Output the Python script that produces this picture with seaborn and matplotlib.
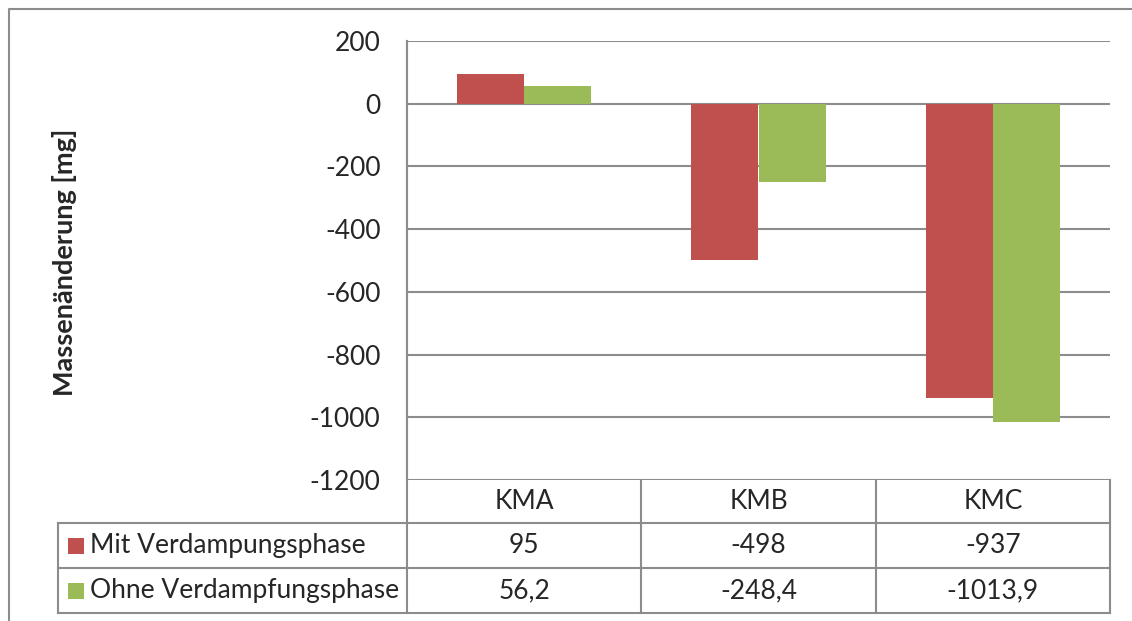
import matplotlib
matplotlib.use("Agg")
import matplotlib.pyplot as plt
import seaborn as sns
import pandas as pd
from matplotlib.patches import Rectangle

# --- Daten ---
kategorien = ["KMA", "KMB", "KMC"]
serien = ["Mit Verdampungsphase", "Ohne Verdampfungsphase"]
mit_verdampfung = [95, -498, -937]
ohne_verdampfung = [56.2, -248.4, -1013.9]
y_ticks = [200, 0, -200, -400, -600, -800, -1000, -1200]

werte = {serien[0]: mit_verdampfung, serien[1]: ohne_verdampfung}
df = pd.DataFrame({
    "Kategorie": kategorien * 2,
    "Serie": [serien[0]] * 3 + [serien[1]] * 3,
    "Wert": mit_verdampfung + ohne_verdampfung,
})

farben = ["#C0504D", "#9BBB59"]
grau = "#8C8C8C"
fs = 19

sns.set_style("white")
plt.rcParams["font.family"] = ["Lato", "DejaVu Sans"]

W, H = 1132, 621
fig = plt.figure(figsize=(W / 100, H / 100), dpi=100)

# Layout in Pixeln
links, rechts, oben, unten = 407, 1110, 41, 480
ax = fig.add_axes([links / W, 1 - unten / H, (rechts - links) / W, (unten - oben) / H])

sns.barplot(data=df, x="Kategorie", y="Wert", hue="Serie", palette=farben,
            saturation=1, width=0.572, linewidth=0, legend=False, ax=ax)

ax.set_ylim(-1200, 200)
ax.set_xlim(-0.5, 2.5)
ax.set_yticks(y_ticks)
ax.set_yticklabels([str(t) for t in y_ticks], fontsize=fs)
ax.tick_params(axis="y", length=0, pad=19)
ax.set_xticks([])
ax.set_xlabel("")
ax.set_ylabel("")
ax.grid(axis="y", color=grau, linewidth=1.5)
ax.set_axisbelow(True)
for s in ["top", "right", "bottom"]:
    ax.spines[s].set_visible(False)
ax.spines["left"].set_color(grau)
ax.spines["left"].set_linewidth(1.5)

fig.text(65 / W, 1 - 262 / H, "Massenänderung [mg]", rotation=90,
         ha="center", va="center", fontsize=fs + 0.5, fontweight="bold")

# --- Datentabelle unter dem Diagramm (Pixel-Overlay) ---
ov = fig.add_axes([0, 0, 1, 1], facecolor="none")
ov.set_xlim(0, W)
ov.set_ylim(H, 0)
ov.axis("off")

zeilen = [480, 523, 568, 613]
tab_links = 58
spalte = (rechts - links) / len(kategorien)
grenzen = [links + i * spalte for i in range(len(kategorien) + 1)]

kw = dict(color=grau, linewidth=1.5, solid_capstyle="projecting")
ov.plot([links, links], [oben, zeilen[-1]], **kw)
for y in zeilen[1:]:
    ov.plot([tab_links, rechts], [y, y], **kw)
ov.plot([tab_links, tab_links], [zeilen[1], zeilen[-1]], **kw)
for x in grenzen[1:]:
    ov.plot([x, x], [zeilen[0], zeilen[-1]], **kw)

for i, k in enumerate(kategorien):
    xm = (grenzen[i] + grenzen[i + 1]) / 2
    ov.text(xm, (zeilen[0] + zeilen[1]) / 2, k, ha="center", va="center", fontsize=fs)

for r, (name, farbe) in enumerate(zip(serien, farben)):
    yo, yu = zeilen[r + 1], zeilen[r + 2]
    ym = (yo + yu) / 2
    ov.add_patch(Rectangle((68, ym - 8), 16, 16, color=farbe, linewidth=0))
    ov.text(90, ym, name, ha="left", va="center", fontsize=fs)
    for i, v in enumerate(werte[name]):
        xm = (grenzen[i] + grenzen[i + 1]) / 2
        txt = f"{v:g}".replace(".", ",")
        ov.text(xm, ym, txt, ha="center", va="center", fontsize=fs)

# äußerer Rahmen
ov.plot([9, 9, W + 5], [H + 5, 9, 9], color=grau, linewidth=1.5)

fig.savefig("out.png", dpi=100)
